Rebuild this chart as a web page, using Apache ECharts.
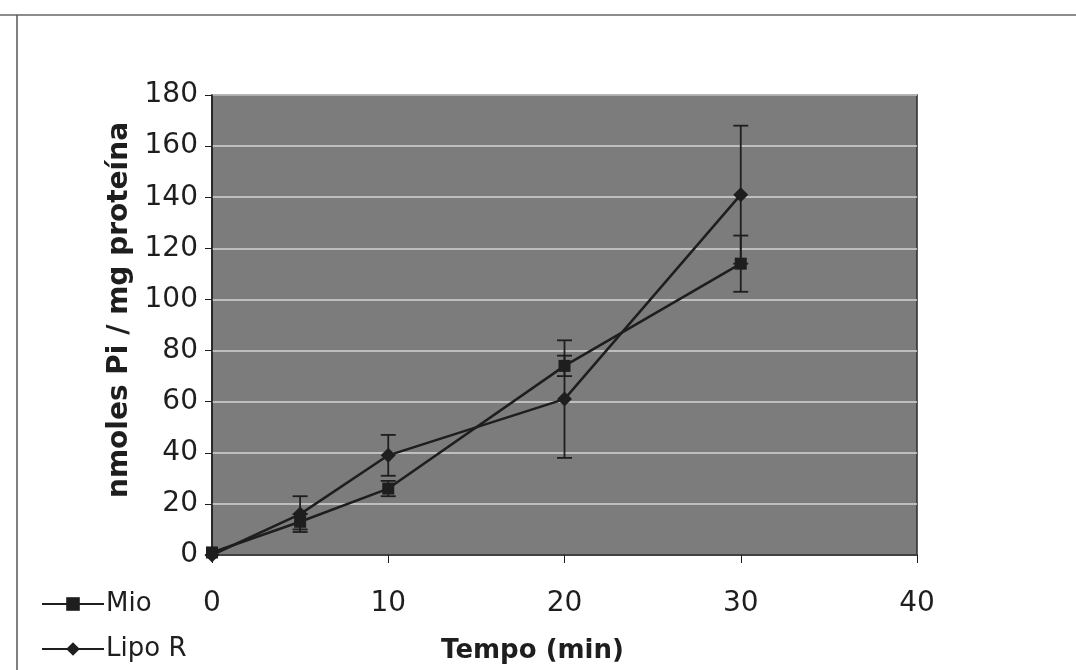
<!DOCTYPE html>
<html>
<head>
<meta charset="utf-8">
<script src="https://cdn.jsdelivr.net/npm/echarts@6/dist/echarts.min.js"></script>
<style>
html,body{margin:0;padding:0;background:#fff;}
#c{width:1076px;height:670px;}
</style>
</head>
<body>
<div id="c"></div>
<script>
// Data
const time = [0, 5, 10, 20, 30];
const mio = [1, 13, 26, 74, 114];
const mioErr = [0, 3, 3, 4, 11];
const lipo = [0, 16, 39, 61, 141];
const lipoErr = [0, 7, 8, 23, 27];
const xTicks = [0, 10, 20, 30, 40];
const yTicks = [0, 20, 40, 60, 80, 100, 120, 140, 160, 180];

const FONT = 'DejaVu Sans, Verdana, sans-serif';
const INK = '#1e1e1e';

function errData(vals, errs) {
  return time.map((t, i) => [t, vals[i] - errs[i], vals[i] + errs[i]]).filter((d, i) => errs[i] > 0);
}
function errRender(params, api) {
  const x = api.value(0);
  const lo = api.coord([x, api.value(1)]);
  const hi = api.coord([x, api.value(2)]);
  const w = 7.5;
  const st = { stroke: INK, lineWidth: 1.8 };
  return {
    type: 'group',
    children: [
      { type: 'line', shape: { x1: lo[0], y1: lo[1], x2: hi[0], y2: hi[1] }, style: st },
      { type: 'line', shape: { x1: lo[0] - w, y1: lo[1], x2: lo[0] + w, y2: lo[1] }, style: st },
      { type: 'line', shape: { x1: hi[0] - w, y1: hi[1], x2: hi[0] + w, y2: hi[1] }, style: st }
    ]
  };
}

const legendCommon = {
  orient: 'horizontal', left: 36,
  itemWidth: 62, itemHeight: 17,
  textStyle: { fontSize: 26, color: INK, fontFamily: FONT, padding: [0, 0, 0, -3] }
};

const chart = echarts.init(document.getElementById('c'));
chart.setOption({
  animation: false,
  backgroundColor: '#fff',
  textStyle: { fontFamily: FONT },
  grid: {
    left: 212, right: 159, top: 95, bottom: 115,
    show: true, backgroundColor: '#7c7c7c', borderColor: '#2a2a2a', borderWidth: 1.5
  },
  graphic: [
    { type: 'line', shape: { x1: 0, y1: 15, x2: 1076, y2: 15 }, style: { stroke: '#666', lineWidth: 1.5 } },
    { type: 'line', shape: { x1: 17, y1: 15, x2: 17, y2: 670 }, style: { stroke: '#555', lineWidth: 1.5 } }
  ],
  legend: [
    Object.assign({ top: 586, data: ['Mio'] }, legendCommon),
    Object.assign({ top: 631, data: ['Lipo R'] }, legendCommon)
  ],
  xAxis: {
    type: 'value', min: 0, max: 40, interval: 10,
    name: 'Tempo (min)', nameLocation: 'middle', nameGap: 83,
    nameTextStyle: { fontSize: 26, fontWeight: 'bold', color: INK, fontFamily: FONT, padding: [0, 64, 0, 0] },
    axisLine: { show: true, lineStyle: { color: INK, width: 1.5 } },
    axisTick: { show: true, length: 8, lineStyle: { color: INK } },
    axisLabel: { fontSize: 28, color: INK, margin: 35, fontFamily: FONT,
      formatter: v => xTicks.includes(v) ? String(v) : '' },
    splitLine: { show: false }
  },
  yAxis: {
    type: 'value', min: 0, max: 180, interval: 20,
    name: 'nmoles Pi / mg proteína', nameLocation: 'middle', nameGap: 55,
    nameTextStyle: { fontSize: 28, fontWeight: 'bold', color: INK, fontFamily: FONT, padding: [0, 0, 0, 30] },
    axisLine: { show: true, lineStyle: { color: INK, width: 1.5 } },
    axisTick: { show: true, length: 7, lineStyle: { color: INK } },
    axisLabel: { fontSize: 28, color: INK, margin: 14, fontFamily: FONT,
      formatter: v => yTicks.includes(v) ? String(v) : '' },
    splitLine: { show: true, lineStyle: { color: '#d4d4d4', width: 1.5 } }
  },
  series: [
    {
      name: 'Mio', type: 'line', data: time.map((t, i) => [t, mio[i]]),
      symbol: 'rect', symbolSize: 12, z: 3,
      lineStyle: { color: INK, width: 2.5 }, itemStyle: { color: INK }
    },
    {
      name: 'Lipo R', type: 'line', data: time.map((t, i) => [t, lipo[i]]),
      symbol: 'diamond', symbolSize: 15, z: 3,
      lineStyle: { color: INK, width: 2.5 }, itemStyle: { color: INK }
    },
    { type: 'custom', renderItem: errRender, data: errData(mio, mioErr), z: 2, silent: true },
    { type: 'custom', renderItem: errRender, data: errData(lipo, lipoErr), z: 2, silent: true }
  ]
});
</script>
</body>
</html>
